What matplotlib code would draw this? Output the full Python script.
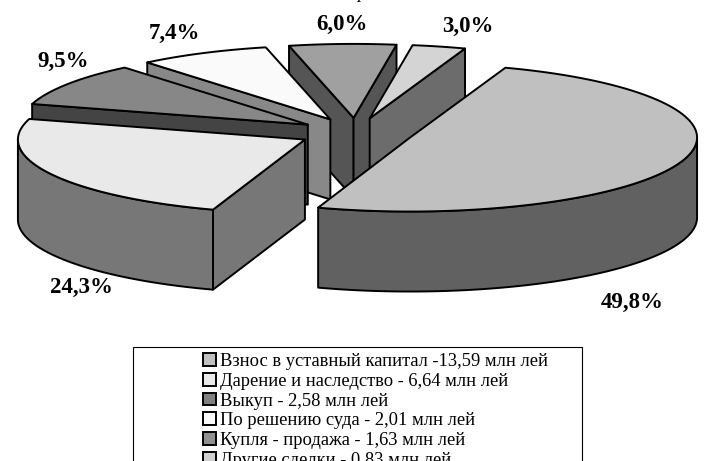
import numpy as np
import matplotlib
matplotlib.use("Agg")
import matplotlib.pyplot as plt
from matplotlib.patches import Polygon, Rectangle, Patch

# Data
categories = ["Взнос в уставный капитал -13,59 млн лей",
              "Дарение и наследство - 6,64 млн лей",
              "Выкуп - 2,58 млн лей",
              "По решению суда - 2,01 млн лей",
              "Купля - продажа - 1,63 млн лей",
              "Другие сделки - 0,83 млн лей"]
shares = [49.8, 24.3, 9.5, 7.4, 6.0, 3.0]
share_labels = ["49,8%", "24,3%", "9,5%", "7,4%", "6,0%", "3,0%"]

# Styles
top_colors = ["#C0C0C0", "#E9E9E9", "#878787", "#FAFAFA", "#A0A0A0", "#D4D4D4"]
wall_colors = ["#616161", "#777777", "#444444", "#888888", "#555555", "#6C6C6C"]
legend_colors = ["#C0C0C0", "#E9E9E9", "#808080", "#FAFAFA", "#909090", "#D0D0D0"]
label_xy = [(632, 302), (81, 287), (63, 61), (174, 33), (342, 24), (468, 26)]
draw_order = [4, 5, 3, 2, 1, 0]
CX, CY, RX, RY, DEPTH, EXPLODE, START = 355.8, 132.7, 287, 74, 80, 0.2, 70.6
LW = 1.4

plt.rcParams["font.family"] = ["Liberation Serif", "DejaVu Serif"]
fig = plt.figure(figsize=(7.05, 4.61), dpi=100, facecolor="white")
ax = fig.add_axes([0, 0, 1, 1])
ax.set_xlim(0, 705)
ax.set_ylim(461, 0)
ax.axis("off")


def poly(points, face, z):
    ax.add_patch(Polygon(points, closed=True, facecolor=face, edgecolor="black",
                         linewidth=LW, joinstyle="round", zorder=z))


edges = START - np.cumsum([0] + shares) * 3.6
for z, i in enumerate(draw_order):
    hi, lo = edges[i], edges[i + 1]
    mid = np.radians((hi + lo) / 2)
    cx = CX + EXPLODE * RX * np.cos(mid)
    cy = CY - EXPLODE * RY * np.sin(mid)
    base = z * 10 + 2

    def pt(deg):
        r = np.radians(deg)
        return cx + RX * np.cos(r), cy - RY * np.sin(r)

    # radial walls facing the viewer
    for ang, visible in ((hi, np.cos(np.radians(hi)) < 0), (lo, np.cos(np.radians(lo)) > 0)):
        if visible:
            x, y = pt(ang)
            poly([(cx, cy), (x, y), (x, y + DEPTH), (cx, cy + DEPTH)], wall_colors[i], base)

    # outer wall: only the front half of the rim (sin < 0)
    arc = np.linspace(hi, lo, 200)
    front = arc[np.sin(np.radians(arc)) <= 0]
    if front.size:
        xs, ys = pt(front)
        poly(list(zip(xs, ys)) + list(zip(xs[::-1], ys[::-1] + DEPTH)), wall_colors[i], base + 1)

    # top face
    xs, ys = pt(arc)
    poly([(cx, cy)] + list(zip(xs, ys)), top_colors[i], base + 2)

for txt, (x, y) in zip(share_labels, label_xy):
    ax.text(x, y, txt, ha="center", va="center", fontsize=16.5, fontweight="bold", zorder=100)

# clipped remnant of the title at the top edge
ax.text(362, -2.5, "р", ha="center", va="baseline", fontsize=13, style="italic", zorder=100)

# legend frame runs past the bottom edge of the picture
ax.add_patch(Rectangle((133, 347), 449, 130, facecolor="white", edgecolor="black",
                       linewidth=0.8, zorder=101, clip_on=False))
handles = [Patch(facecolor=c, edgecolor="black", linewidth=1.4) for c in legend_colors]
leg = ax.legend(handles, categories, loc="upper left", bbox_to_anchor=(203, 353),
                bbox_transform=ax.transData, frameon=False, fontsize=13.3, borderpad=0,
                borderaxespad=0, handlelength=0.68, handleheight=0.68, handletextpad=0.22,
                labelspacing=0.15)
leg.set_zorder(102)
fig.savefig("out.png", dpi=100, facecolor="white")
